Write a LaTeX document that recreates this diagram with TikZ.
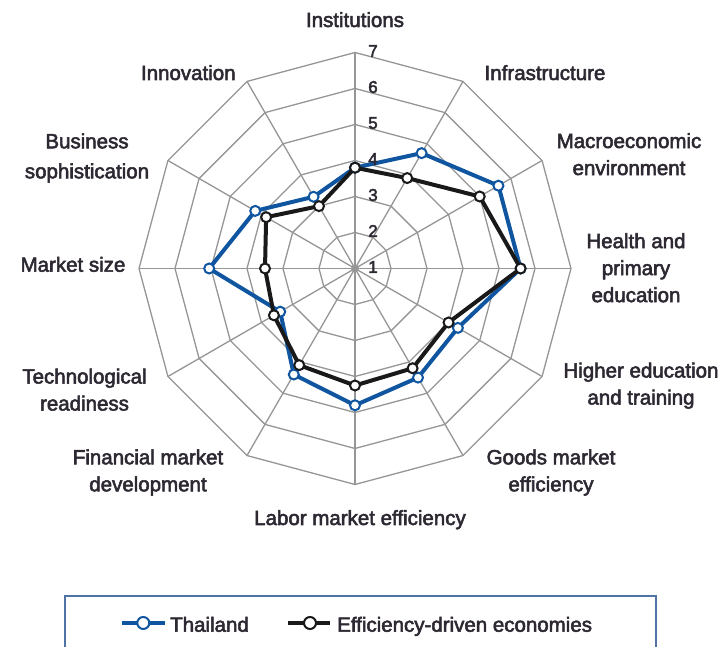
\documentclass[tikz,border=0pt]{standalone}
\usepackage{fontspec}
\setmainfont{Liberation Sans}[RawFeature={embolden=2.6}]
\definecolor{txt}{RGB}{45,40,50}
\definecolor{thai}{RGB}{15,85,160}
\definecolor{ede}{RGB}{25,25,25}
\definecolor{gridc}{RGB}{150,150,150}
\definecolor{legbox}{RGB}{80,115,165}
\begin{document}
\begin{tikzpicture}[x=1pt,y=1pt,
  lbl/.style={text=txt, font=\fontsize{20.5}{27}\selectfont, align=center, inner sep=0pt},
  num/.style={text=txt, font=\fontsize{17}{17}\selectfont, inner sep=0pt},
  gridline/.style={draw=gridc, line width=1.3pt},
  thailine/.style={draw=thai, line width=4pt, line join=round},
  edeline/.style={draw=ede, line width=4pt, line join=round},
  thaimark/.style={circle, draw=thai, fill=white, line width=2pt, minimum size=10pt, inner sep=0pt},
  edemark/.style={circle, draw=ede, fill=white, line width=2pt, minimum size=10pt, inner sep=0pt},
]
\useasboundingbox (0,0) rectangle (721,647);
\fill[white] (0,0) rectangle (721,647);
\begin{scope}[shift={(355,378.5)}]
  % rings
  \foreach \k in {1,...,6} {
    \draw[gridline] (90:36*\k) \foreach \a in {60,30,...,-240} { -- (\a:36*\k) } -- cycle;
  }
  % spokes
  \foreach \a in {90,60,...,-240} \draw[gridline] (0,0) -- (\a:216);
  \fill[gridc] (0,0) circle (4);
  \coordinate (O) at (0,0);
  % data points
  \foreach \v [count=\i] in {3.8,4.7,5.6,5.6,4.3,4.5,4.8,4.4,3.4,5.05,4.2,3.3}
    \coordinate (T\i) at ({90-30*(\i-1)}:{36*(\v-1)});
  \foreach \v [count=\i] in {3.8,3.9,5.0,5.6,4.0,4.2,4.25,4.1,3.6,3.5,3.85,3.0}
    \coordinate (E\i) at ({90-30*(\i-1)}:{36*(\v-1)});
  \draw[thailine] (T1) -- (T2) -- (T3) -- (T4) -- (T5) -- (T6) -- (T7) -- (T8) -- (T9) -- (T10) -- (T11) -- (T12) -- cycle;
  \foreach \i in {1,...,12} \node[thaimark] (TM\i) at (T\i) {};
  \draw[edeline] (E1) -- (E2) -- (E3) -- (E4) -- (E5) -- (E6) -- (E7) -- (E8) -- (E9) -- (E10) -- (E11) -- (E12) -- cycle;
  \foreach \i in {1,...,12} \node[edemark] (EM\i) at (E\i) {};
  % scale numbers
  \foreach \k in {1,...,7} \node[num] (n\k) at (18,{36*(\k-1)+1.5}) {\k};
\end{scope}
% axis labels
\node[lbl, anchor=base] (l1) at (355,620) {Institutions};
\node[lbl, anchor=base] (l2) at (545,567) {Infrastructure};
\node[lbl] (l3) at (629,492.8) {Macroeconomic\\environment};
\node[lbl] (l4) at (636,379.2) {Health and\\primary\\education};
\node[lbl] (l5) at (641,261.3) {Higher education\\and training};
\node[lbl] (l6) at (551,174.5) {Goods market\\efficiency};
\node[lbl, anchor=base] (l7) at (360,122) {Labor market efficiency};
\node[lbl] (l8) at (148,174.5) {Financial market\\development};
\node[lbl] (l9) at (84.5,257.3) {Technological\\readiness};
\node[lbl, anchor=base] (l10) at (73,375.3) {Market size};
\node[lbl] (l11) at (87,489) {Business\\[3pt]sophistication};
\node[lbl, anchor=base] (l12) at (188.3,567) {Innovation};
% legend
\draw[legbox, line width=2pt] (65,-5) -- (65,51) -- (656,51) -- (656,-5);
\coordinate (LTa) at (121.7,24);
\coordinate (LTb) at (165,24);
\draw[thailine] (LTa) -- (LTb);
\node[thaimark, minimum size=12pt] (LTm) at (143.3,24) {};
\node[lbl, anchor=base west] (LTt) at (170,15.3) {Thailand};
\coordinate (LEa) at (288,24);
\coordinate (LEb) at (330,24);
\draw[edeline] (LEa) -- (LEb);
\node[edemark, minimum size=12pt] (LEm) at (310,24) {};
\node[lbl, anchor=base west] (LEt) at (337,15.3) {Efficiency-driven economies};
\end{tikzpicture}
\end{document}
